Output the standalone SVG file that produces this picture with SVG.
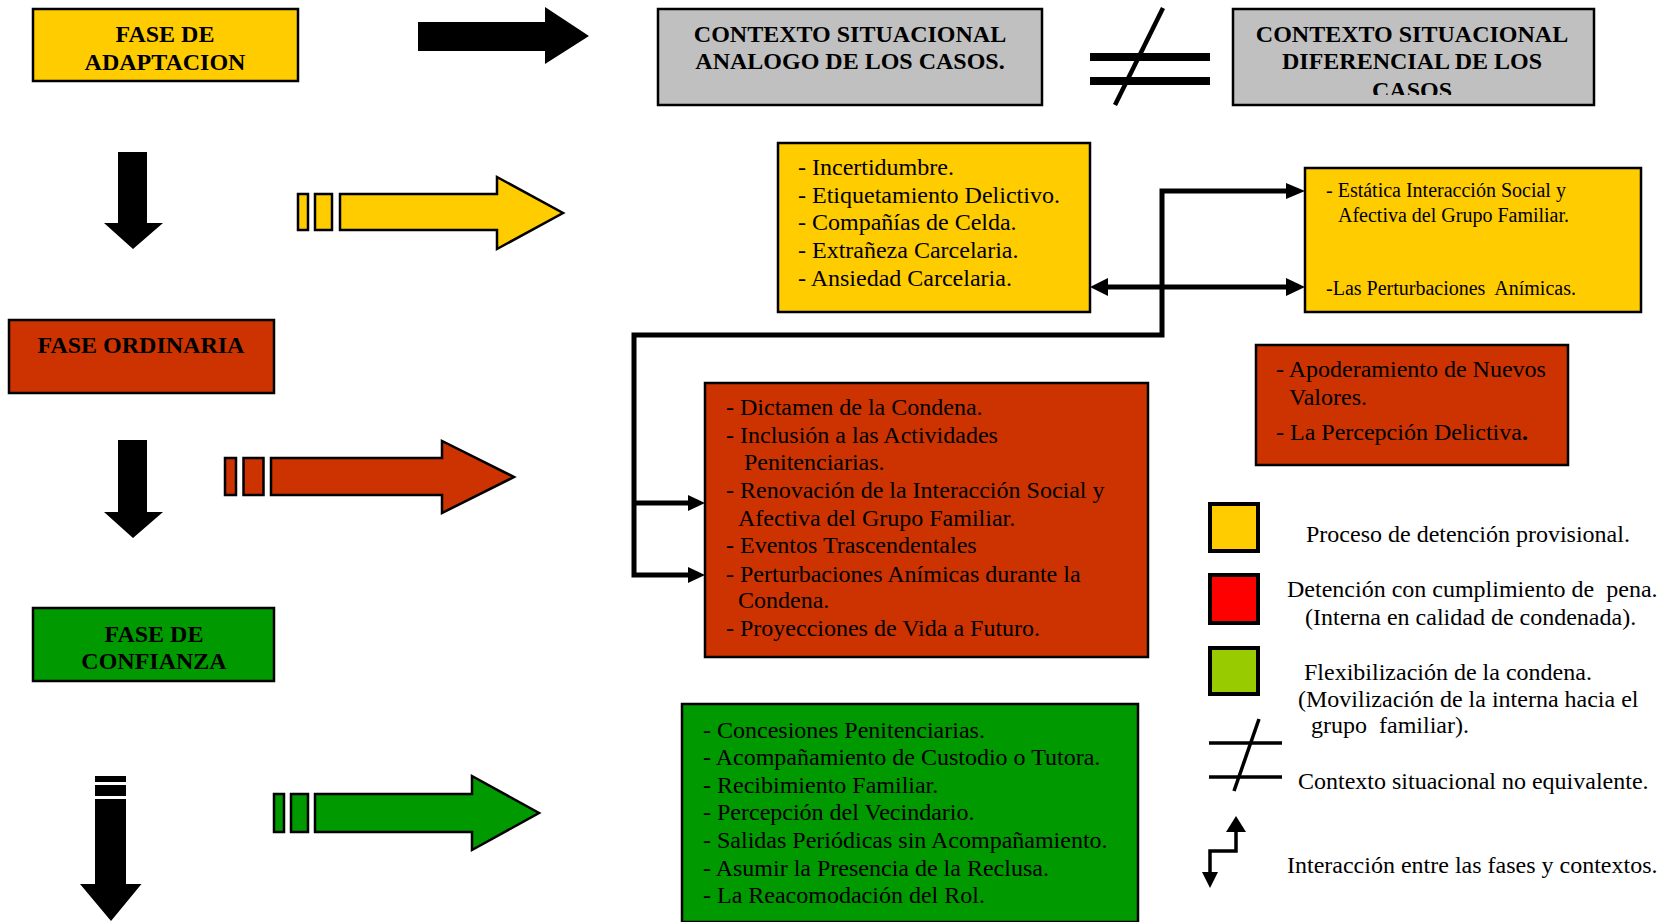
<svg xmlns="http://www.w3.org/2000/svg" width="1675" height="922" viewBox="0 0 1675 922">
<defs>
<style>
text{font-family:"Liberation Serif","Times New Roman",serif;fill:#000;white-space:pre}
.b{font-weight:bold;font-size:24px;text-anchor:middle}
.t{font-size:24px}
.s{font-size:20px}
.box{stroke:#000;stroke-width:2.5}
.y{fill:#FFCC00}.r{fill:#CC3300}.g{fill:#009900}.gr{fill:#C0C0C0}
.blk{fill:#000}
.fat{fill:none;stroke:#000;stroke-width:5;stroke-linejoin:miter;stroke-linecap:butt}
.thin{fill:none;stroke:#000;stroke-width:3.5}
</style>
<clipPath id="c2"><rect x="1233" y="9" width="361" height="86"/></clipPath>
</defs>
<rect width="1675" height="922" fill="#fff"/>

<g id="fase-adaptacion">
<rect class="box y" x="33" y="9" width="265" height="72"/>
<text class="b" x="165" y="42">FASE DE</text>
<text class="b" x="165" y="70">ADAPTACION</text>
</g>

<g id="contexto-analogo">
<rect class="box gr" x="658" y="9" width="384" height="96"/>
<text class="b" x="850" y="42">CONTEXTO SITUACIONAL</text>
<text class="b" x="850" y="69">ANALOGO DE LOS CASOS.</text>
</g>

<g id="no-igual">
<rect x="1090" y="53" width="120" height="8" fill="#000"/>
<rect x="1090" y="77" width="120" height="8" fill="#000"/>
<line x1="1163" y1="8" x2="1115" y2="105" stroke="#000" stroke-width="4.5"/>
</g>

<g id="contexto-diferencial">
<rect class="box gr" x="1233" y="9" width="361" height="96"/>
<g clip-path="url(#c2)">
<text class="b" x="1412" y="42">CONTEXTO SITUACIONAL</text>
<text class="b" x="1412" y="69">DIFERENCIAL DE LOS</text>
<text class="b" x="1412" y="98">CASOS</text>
</g>
</g>

<g id="flecha-derecha-negra"><path class="blk" d="M418,22 H545 V7 L589,36 L545,64 V51 H418 Z"/></g>
<g id="flecha-abajo-1"><path class="blk" d="M118,152 H147 V223 H163 L133,249 L104,223 H118 Z"/></g>
<g id="flecha-abajo-2"><path class="blk" d="M118,440 H147 V512 H163 L133,538 L104,512 H118 Z"/></g>
<g id="flecha-abajo-3">
<rect class="blk" x="95" y="776" width="31" height="6"/>
<rect class="blk" x="95" y="785" width="31" height="11"/>
<path class="blk" d="M95,799 H126 V884 H141.5 L111,921 L80,884 H95 Z"/>
</g>

<g id="flecha-amarilla">
<rect class="box y" x="298" y="194" width="10" height="36" stroke-width="2"/>
<rect class="box y" x="315" y="194" width="17" height="36" stroke-width="2"/>
<path class="box y" stroke-width="2" d="M340,194 H497 V177 L563,213 L497,249 V230 H340 Z"/>
</g>
<g id="flecha-roja">
<rect class="box r" x="225" y="458" width="11" height="37" stroke-width="2"/>
<rect class="box r" x="243.5" y="458" width="20" height="37" stroke-width="2"/>
<path class="box r" stroke-width="2" d="M271,458 H442 V441 L514,477 L442,513 V495 H271 Z"/>
</g>
<g id="flecha-verde">
<rect class="box g" x="274" y="794" width="10" height="38" stroke-width="2"/>
<rect class="box g" x="291" y="794" width="17" height="38" stroke-width="2"/>
<path class="box g" stroke-width="2" d="M315,794 H472 V776 L539,813 L472,850 V832 H315 Z"/>
</g>

<g id="fase-ordinaria">
<rect class="box r" x="9" y="320" width="265" height="73"/>
<text class="b" x="141" y="353">FASE ORDINARIA</text>
</g>

<g id="fase-confianza">
<rect class="box g" x="33" y="608" width="241" height="73"/>
<text class="b" x="154" y="642">FASE DE</text>
<text class="b" x="154" y="669">CONFIANZA</text>
</g>

<g id="lista-adaptacion">
<rect class="box y" x="778" y="143" width="312" height="169"/>
<text class="t" x="798" y="175">- Incertidumbre.</text>
<text class="t" x="798" y="203">- Etiquetamiento Delictivo.</text>
<text class="t" x="798" y="230">- Compañías de Celda.</text>
<text class="t" x="798" y="258">- Extrañeza Carcelaria.</text>
<text class="t" x="798" y="286">- Ansiedad Carcelaria.</text>
</g>

<g id="lista-diferencial-adaptacion">
<rect class="box y" x="1305" y="168" width="336" height="144"/>
<text class="s" x="1326" y="197">- Estática Interacción Social y</text>
<text class="s" x="1338" y="222">Afectiva del Grupo Familiar.</text>
<text class="s" x="1326" y="295">-Las Perturbaciones  Anímicas.</text>
</g>

<g id="lista-ordinaria">
<rect class="box r" x="705" y="383" width="443" height="274"/>
<text class="t" x="726" y="415">- Dictamen de la Condena.</text>
<text class="t" x="726" y="443">- Inclusión a las Actividades</text>
<text class="t" x="744" y="470">Penitenciarias.</text>
<text class="t" x="726" y="498">- Renovación de la Interacción Social y</text>
<text class="t" x="738" y="526">Afectiva del Grupo Familiar.</text>
<text class="t" x="726" y="553">- Eventos Trascendentales</text>
<text class="t" x="726" y="582">- Perturbaciones Anímicas durante la</text>
<text class="t" x="738" y="608">Condena.</text>
<text class="t" x="726" y="636">- Proyecciones de Vida a Futuro.</text>
</g>

<g id="lista-diferencial-ordinaria">
<rect class="box r" x="1256" y="345" width="312" height="120"/>
<text class="t" x="1276" y="377">- Apoderamiento de Nuevos</text>
<text class="t" x="1289" y="405">Valores.</text>
<text class="t" x="1276" y="440">- La Percepción Delictiva<tspan font-weight="bold">.</tspan></text>
</g>

<g id="lista-confianza">
<rect class="box g" x="682" y="704" width="456" height="218"/>
<text class="t" x="703" y="738">- Concesiones Penitenciarias.</text>
<text class="t" x="703" y="765">- Acompañamiento de Custodio o Tutora.</text>
<text class="t" x="703" y="793">- Recibimiento Familiar.</text>
<text class="t" x="703" y="820">- Percepción del Vecindario.</text>
<text class="t" x="703" y="848">- Salidas Periódicas sin Acompañamiento.</text>
<text class="t" x="703" y="876">- Asumir la Presencia de la Reclusa.</text>
<text class="t" x="703" y="903">- La Reacomodación del Rol.</text>
</g>

<g id="conectores">
<line class="fat" x1="1106" y1="287" x2="1288" y2="287"/>
<polygon class="blk" points="1090,287 1108,278 1108,296"/>
<polygon class="blk" points="1305,287 1286,278 1286,296"/>
<polyline class="fat" points="1288,191 1162,191 1162,335 634,335 634,575 690,575"/>
<polygon class="blk" points="1305,191 1286,183 1286,199"/>
<line class="fat" x1="634" y1="503" x2="690" y2="503"/>
<polygon class="blk" points="705,503 688,495 688,511"/>
<polygon class="blk" points="705,575 688,567 688,583"/>
</g>

<g id="leyenda">
<rect x="1210" y="504" width="48" height="47" fill="#FFCC00" stroke="#000" stroke-width="4"/>
<rect x="1210" y="575" width="48" height="48" fill="#FF0000" stroke="#000" stroke-width="4"/>
<rect x="1210" y="648" width="48" height="46" fill="#99CC00" stroke="#000" stroke-width="4"/>
<text class="t" x="1306" y="542">Proceso de detención provisional.</text>
<text class="t" x="1287" y="597">Detención con cumplimiento de  pena.</text>
<text class="t" x="1305" y="625">(Interna en calidad de condenada).</text>
<text class="t" x="1304" y="680">Flexibilización de la condena.</text>
<text class="t" x="1298" y="707">(Movilización de la interna hacia el</text>
<text class="t" x="1311" y="733">grupo  familiar).</text>
<line class="thin" x1="1209" y1="743" x2="1282" y2="743"/>
<line class="thin" x1="1209" y1="777" x2="1282" y2="777"/>
<line class="thin" x1="1259" y1="719" x2="1234" y2="791"/>
<text class="t" x="1298" y="789">Contexto situacional no equivalente.</text>
<polyline class="thin" points="1236,830 1236,851 1210,851 1210,874"/>
<polygon class="blk" points="1236,816 1226,832 1246,832"/>
<polygon class="blk" points="1210,888 1202,872 1218,872"/>
<text class="t" x="1287" y="873">Interacción entre las fases y contextos.</text>
</g>
</svg>
